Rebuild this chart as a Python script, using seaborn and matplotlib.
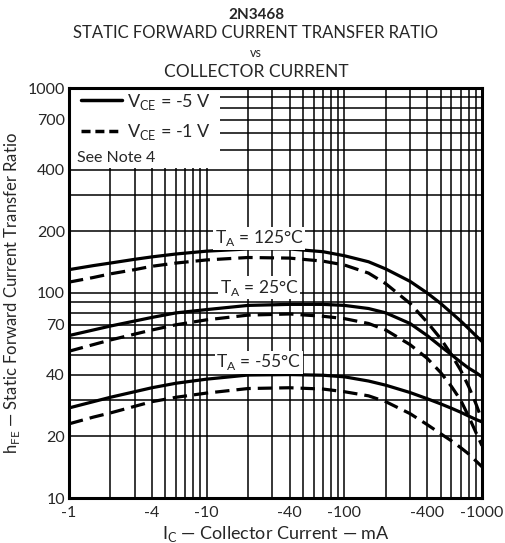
import matplotlib
matplotlib.use("Agg")
import matplotlib.pyplot as plt
import matplotlib.ticker as mticker
from matplotlib.patches import Rectangle
from matplotlib.lines import Line2D
import seaborn as sns
import numpy as np

# ── Data ───────────────────────────────────────────────────────────────
ic_ma = [1, 1.5, 2, 3, 4, 6, 10, 20, 40, 70, 100, 150, 200, 300, 400, 500, 600, 700, 800, 900, 1000]

hfe_125_5v = [130, 136, 140, 146, 150, 155, 160, 164, 164, 159, 152, 142, 131, 114, 100, 89, 80, 73, 67, 62, 58]
hfe_125_1v = [113, 119, 124, 130, 135, 140, 145, 149, 148, 143, 137, 125, 111, 89, 72, 60, 50, 42, 35, 29, 24]
hfe_25_5v = [62, 66, 69, 73, 76, 80, 83, 87, 88, 88, 87, 84, 80, 71, 62, 55, 50, 46, 43, 41, 39]
hfe_25_1v = [52, 56, 59, 63, 66, 70, 74, 78, 79, 77, 75, 71, 66, 56, 48, 41, 35, 30, 25, 21, 18]
hfe_m55_5v = [27.5, 29.5, 31, 33, 34.5, 36.3, 38, 39.8, 40, 39.7, 39, 37.2, 35.5, 32.7, 30.5, 28.8, 27.4, 26.2, 25.1, 24.2, 23.5]
hfe_m55_1v = [23, 24.8, 26, 28, 29.5, 31, 32.5, 34.2, 34.5, 34, 33, 31.5, 29.5, 25.8, 22.8, 20.6, 19, 17.6, 16.4, 15.2, 14.2]

x_ticks = [1, 4, 10, 40, 100, 400, 1000]
x_tick_labels = ["-1", "-4", "-10", "-40", "-100", "-400", "-1000"]
y_ticks = [10, 20, 40, 70, 100, 200, 400, 700, 1000]
y_tick_labels = ["10", "20", "40", "70", "100", "200", "400", "700", "1000"]

temp_labels = [r"T$_\mathregular{A}$ = 125°C", r"T$_\mathregular{A}$ = 25°C", r"T$_\mathregular{A}$ = -55°C"]
temp_label_pos = [(24, 185), (24, 106), (24, 46)]

series = [
    (hfe_125_5v, "-"), (hfe_125_1v, "--"),
    (hfe_25_5v, "-"), (hfe_25_1v, "--"),
    (hfe_m55_5v, "-"), (hfe_m55_1v, "--"),
]

# ── Style ─────────────────────────────────────────────────────────────
sns.set_style("white")
plt.rcParams["font.family"] = ["Lato", "DejaVu Sans"]
plt.rcParams["mathtext.fontset"] = "custom"
plt.rcParams["mathtext.rm"] = "Lato"

fig = plt.figure(figsize=(5.06, 5.43), dpi=100)
ax = fig.add_axes([69 / 506, 1 - 498 / 543, 413 / 506, 410 / 543])

for vals, ls in series:
    line = sns.lineplot(x=ic_ma, y=vals, ax=ax, color="black", linewidth=2.3,
                        sort=False, estimator=None, zorder=3).lines[-1]
    if ls == "--":
        line.set_dashes((4.5, 2.2))

ax.set_xscale("log")
ax.set_yscale("log")
ax.set_xlim(1, 1000)
ax.set_ylim(10, 1000)

ax.xaxis.set_major_locator(mticker.FixedLocator(x_ticks))
ax.xaxis.set_major_formatter(mticker.FixedFormatter(x_tick_labels))
ax.xaxis.set_minor_locator(mticker.LogLocator(base=10, subs=np.arange(1, 10), numticks=20))
ax.xaxis.set_minor_formatter(mticker.NullFormatter())
ax.yaxis.set_major_locator(mticker.FixedLocator(y_ticks))
ax.yaxis.set_major_formatter(mticker.FixedFormatter(y_tick_labels))
ax.yaxis.set_minor_locator(mticker.LogLocator(base=10, subs=np.arange(1, 10), numticks=20))
ax.yaxis.set_minor_formatter(mticker.NullFormatter())

ax.set_axisbelow(True)
ax.grid(which="both", color="black", linewidth=1.1)
ax.tick_params(which="both", length=0, labelsize=11.5, pad=3)
ax.tick_params(axis="x", pad=6)
for sp in ax.spines.values():
    sp.set_linewidth(2.2)
    sp.set_color("black")

# white box that hides grid behind the legend
ax.add_patch(Rectangle((0, 0.806), 0.366, 0.194, transform=ax.transAxes,
                       facecolor="white", edgecolor="none", zorder=1))

handles = [Line2D([], [], color="black", lw=2.5, ls="-"),
           Line2D([], [], color="black", lw=2.5, dashes=(2.6, 1.4))]
leg = ax.legend(handles, [r"V$_\mathregular{CE}$ = -5 V", r"V$_\mathregular{CE}$ = -1 V"],
                loc="upper left", bbox_to_anchor=(0.02, 1.0), frameon=False,
                fontsize=13, handlelength=2.3, handletextpad=0.25,
                labelspacing=0.6, borderaxespad=0.0, borderpad=0.2)
ax.text(0.02, 0.829, "See Note 4", transform=ax.transAxes, fontsize=11.5,
        ha="left", va="center", zorder=4)

for lab, (tx, ty) in zip(temp_labels, temp_label_pos):
    ax.text(tx, ty, lab, fontsize=12.5, ha="center", va="center", zorder=4,
            bbox=dict(facecolor="white", edgecolor="none", pad=1.0))

ax.set_xlabel(r"I$_\mathregular{C}$ — Collector Current — mA", fontsize=13, labelpad=3)
ax.set_ylabel(r"h$_\mathregular{FE}$ — Static Forward Current Transfer Ratio", fontsize=12, labelpad=4)

fig.text(0.5 + 3 / 506, 1 - 15 / 543, "2N3468", ha="center", va="center", fontsize=11, fontweight="bold")
fig.text(0.5 + 3 / 506, 1 - 33 / 543, "STATIC FORWARD CURRENT TRANSFER RATIO", ha="center", va="center", fontsize=12)
fig.text(0.5 + 3 / 506, 1 - 53 / 543, "vs", ha="center", va="center", fontsize=9)
fig.text(0.5 + 3 / 506, 1 - 72 / 543, "COLLECTOR CURRENT", ha="center", va="center", fontsize=12.5)

fig.savefig("out.png", dpi=100, facecolor="white")
